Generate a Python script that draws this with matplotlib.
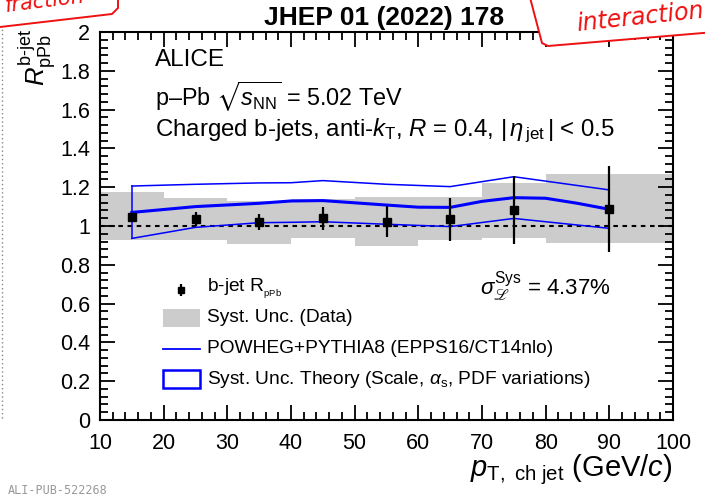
import matplotlib
matplotlib.use('Agg')
import matplotlib.pyplot as plt
from matplotlib.patches import Rectangle, Polygon
from matplotlib.lines import Line2D
from matplotlib.ticker import MultipleLocator

plt.rcParams['font.family'] = ['Liberation Sans', 'DejaVu Sans']
plt.rcParams['mathtext.fontset'] = 'custom'
plt.rcParams['mathtext.rm'] = 'Liberation Sans'
plt.rcParams['mathtext.it'] = 'Liberation Sans:italic'
plt.rcParams['mathtext.bf'] = 'Liberation Sans:bold'
plt.rcParams['mathtext.fallback'] = 'stixsans'

# ---- data ----
pt_centers = [15, 25, 35, 45, 55, 65, 75, 90]
rppb = [1.048, 1.036, 1.020, 1.040, 1.022, 1.034, 1.082, 1.088]
stat_err = [0.015, 0.036, 0.043, 0.060, 0.079, 0.112, 0.174, 0.220]

sys_bin_lo = [10, 20, 30, 40, 50, 60, 70, 80]
sys_bin_hi = [20, 30, 40, 50, 60, 70, 80, 100]
sys_lo = [0.928, 0.928, 0.906, 0.936, 0.897, 0.928, 0.936, 0.910]
sys_hi = [1.174, 1.146, 1.129, 1.137, 1.148, 1.148, 1.220, 1.268]

theory_central_pt = [15, 25, 35, 40, 45, 55, 60, 65, 70, 75, 80, 85, 90]
theory_central = [1.070, 1.100, 1.117, 1.129, 1.131, 1.108, 1.097, 1.096, 1.127, 1.146, 1.143, 1.117, 1.086]
theory_band_pt = [15, 25, 35, 40, 45, 55, 65, 75, 90]
theory_upper = [1.206, 1.215, 1.222, 1.223, 1.234, 1.215, 1.203, 1.254, 1.186]
theory_lower = [0.936, 0.993, 1.017, 1.019, 1.022, 1.009, 0.997, 1.039, 0.988]

x_ticks = [10, 20, 30, 40, 50, 60, 70, 80, 90, 100]
y_ticks = [0, 0.2, 0.4, 0.6, 0.8, 1, 1.2, 1.4, 1.6, 1.8, 2]
y_tick_labels = ['0', '0.2', '0.4', '0.6', '0.8', '1', '1.2', '1.4', '1.6', '1.8', '2']

W, H = 705, 498
fig = plt.figure(figsize=(W / 100, H / 100), dpi=100)
ax = fig.add_axes([100 / W, (H - 420) / H, 573 / W, 388 / H])

GRAY = '#cccccc'
BLUE = '#0000ff'

# systematic boxes
for lo, hi, ylo, yhi in zip(sys_bin_lo, sys_bin_hi, sys_lo, sys_hi):
    ax.add_patch(Rectangle((lo, ylo), hi - lo, yhi - ylo, facecolor=GRAY,
                           edgecolor='none', zorder=1))

# dashed unity line
ax.axhline(1.0, color='black', lw=1.5, ls=(0, (2.2, 2.2)), zorder=2)

# theory band
ax.plot(theory_band_pt, theory_upper, color=BLUE, lw=1.1, zorder=3)
ax.plot(theory_band_pt, theory_lower, color=BLUE, lw=1.1, zorder=3)
ax.plot([theory_band_pt[0]] * 2, [theory_lower[0], theory_upper[0]], color=BLUE, lw=1.1, zorder=3)
ax.plot([theory_band_pt[-1]] * 2, [theory_lower[-1], theory_upper[-1]], color=BLUE, lw=1.1, zorder=3)
ax.plot(theory_central_pt, theory_central, color=BLUE, lw=2.2, zorder=3)

# data points
ax.errorbar(pt_centers, rppb, yerr=stat_err, fmt='s', color='black', ms=6,
            elinewidth=1.6, capsize=0, zorder=5)

ax.set_xlim(10, 100)
ax.set_ylim(0, 2)
ax.set_xticks(x_ticks)
ax.set_xticklabels([str(v) for v in x_ticks])
ax.set_yticks(y_ticks)
ax.set_yticklabels(y_tick_labels)
ax.xaxis.set_minor_locator(MultipleLocator(2))
ax.yaxis.set_minor_locator(MultipleLocator(0.04))
ax.tick_params(which='both', direction='in', top=True, right=True, width=1.3)
ax.tick_params(which='major', length=11, labelsize=15.5, pad=7)
ax.tick_params(which='minor', length=5.5)
ax.tick_params(axis='x', which='major', pad=9)
for s in ax.spines.values():
    s.set_linewidth(1.5)

# text block
ax.text(18.6, 1.855, 'ALICE', fontsize=17.5, va='center', ha='left')
ax.text(18.6, 1.665, r'p–Pb $\sqrt{s_{\mathrm{NN}}}$ = 5.02 TeV', fontsize=16.8, va='center', ha='left')
ax.text(18.6, 1.49, r'Charged b-jets, anti-$k_{\mathrm{T}}$, $R$ = 0.4, |$\,\eta_{\,\mathrm{jet}}\,$| < 0.5',
        fontsize=17.3, va='center', ha='left')

# legend (manual)
lx0, lx1 = 19.9, 25.7
tx = 26.8
LFS = 13.8
ax.errorbar([22.7], [0.67], yerr=[0.03], fmt='s', color='black', ms=5, elinewidth=1.6, capsize=0, zorder=5)
ax.text(tx, 0.675, r'b-jet R$_{_{\mathrm{pPb}}}$', fontsize=LFS, va='center', ha='left')
ax.add_patch(Rectangle((lx0, 0.479), lx1 - lx0, 0.093, facecolor=GRAY, edgecolor='none'))
ax.text(tx, 0.526, 'Syst. Unc. (Data)', fontsize=LFS, va='center', ha='left')
ax.plot([lx0, lx1], [0.366, 0.366], color=BLUE, lw=1.3)
ax.text(tx, 0.366, 'POWHEG+PYTHIA8 (EPPS16/CT14nlo)', fontsize=LFS, va='center', ha='left')
ax.add_patch(Rectangle((lx0, 0.165), lx1 - lx0, 0.093, facecolor='none', edgecolor=BLUE, lw=1.8))
ax.text(tx, 0.211, r'Syst. Unc. Theory (Scale, $\alpha_{\mathrm{s}}$, PDF variations)',
        fontsize=LFS, va='center', ha='left')

# luminosity uncertainty
ax.text(69.7, 0.69, r'$\sigma^{\mathrm{Sys}}_{ℒ}$ = 4.37%', fontsize=16, va='center', ha='left')

# title
fig.text(384 / W, 1 - 18 / H, 'JHEP 01 (2022) 178', fontsize=19, fontweight='bold',
         ha='center', va='center')

# axis labels
fig.text(672 / W, 1 - 476 / H, r'$p_{\mathrm{T,\ ch\ jet}}$ (GeV/$c$)', fontsize=21,
         ha='right', va='baseline')
fig.text(37 / W, 1 - 57 / H, r'$R^{\mathrm{b}\text{-}\mathrm{jet}}_{\mathrm{pPb}}$', fontsize=18.5,
         ha='center', va='center', rotation=90)

# footer
fig.text(8 / W, 1 - 490 / H, 'ALI-PUB-522268', fontsize=8.5, family='DejaVu Sans Mono',
         color='#999999', ha='left', va='center')

# left dotted border
fig.add_artist(Line2D([1.5 / W, 1.5 / W], [1 - 25 / H, 1 - 420 / H], color='#888888',
                      lw=1, ls=(0, (1, 2))))

# sticky notes (decorative)
def px(x, y):
    return (x / W, 1 - y / H)

left_note = Polygon([px(-5, -10), px(118, -10), px(118, 8), px(112, 14), px(0, 27), px(-5, 27)],
                    closed=True, facecolor='white', edgecolor='#ee1111', lw=1.4,
                    transform=fig.transFigure, zorder=10)
fig.add_artist(left_note)
fig.text(45 / W, 1 - 1 / H, 'fraction', color='#ee1111', fontsize=15, style='italic',
         ha='center', va='center', rotation=7, zorder=11, family='DejaVu Sans')
right_note = Polygon([px(528, -10), px(715, -10), px(715, 32), px(548, 46), px(542, 43)],
                     closed=True, facecolor='white', edgecolor='#ee1111', lw=1.4,
                     transform=fig.transFigure, zorder=10)
fig.add_artist(right_note)
fig.text(640 / W, 1 - 17 / H, 'interaction', color='#ee1111', fontsize=17, style='italic',
         ha='center', va='center', rotation=6, zorder=11, family='DejaVu Sans')

fig.savefig('out.png', dpi=100)
